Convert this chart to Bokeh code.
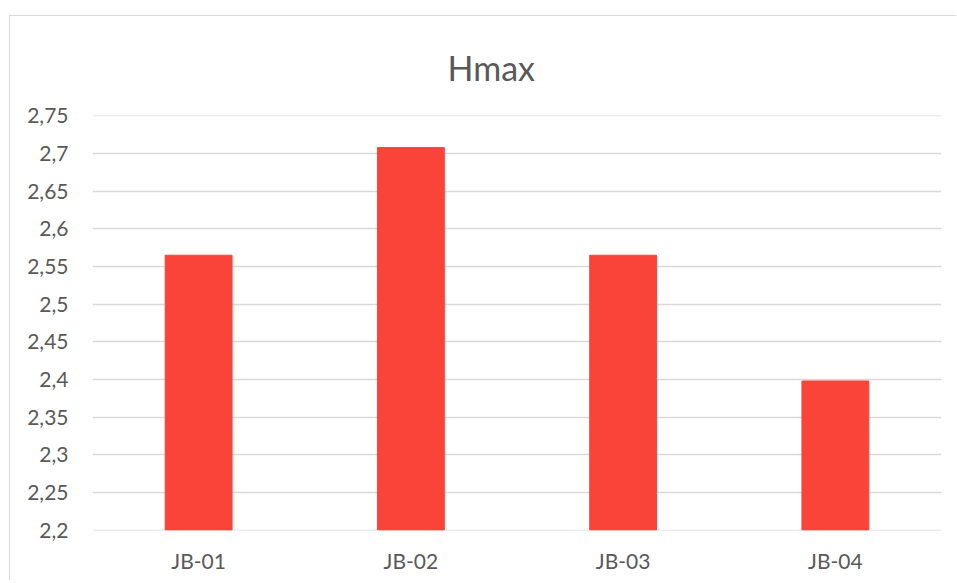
from bokeh.plotting import figure
from bokeh.models import Range1d, FixedTicker, CustomJSTickFormatter, FactorRange
from bokeh.embed import file_html
from bokeh.resources import INLINE

categories = ["JB-01", "JB-02", "JB-03", "JB-04"]
hmax_values = [2.565, 2.708, 2.565, 2.398]
y_ticks = [2.2, 2.25, 2.3, 2.35, 2.4, 2.45, 2.5, 2.55, 2.6, 2.65, 2.7, 2.75]
y_start, y_end = 2.2, 2.75
title_text = "Hmax"

FONT = "Lato"
TEXT_COLOR = "#595959"
GRID_COLOR = "#d9d9d9"
BAR_COLOR = "#FA4339"

p = figure(
    x_range=FactorRange(*categories, range_padding=0),
    y_range=Range1d(y_start - 0.0006, y_end + 0.0006),
    width=947, height=565,
    output_backend="svg", toolbar_location=None,
    title=title_text,
    min_border_left=82, min_border_right=16, min_border_top=99, min_border_bottom=51,
)
p.styles = {"border-left": "1px solid #d9d9d9", "border-top": "1px solid #d9d9d9",
            "margin-top": "15px", "margin-left": "9px"}

p.vbar(x=categories, top=hmax_values, bottom=y_start, width=0.315, color=BAR_COLOR)

p.title.align = "left"
p.title.offset = 355
p.title.text_font = FONT
p.title.text_font_size = "34px"
p.title.text_font_style = "normal"
p.title.text_color = TEXT_COLOR
p.title.standoff = 56

p.outline_line_color = None
p.background_fill_color = "white"
p.border_fill_color = "white"

p.xgrid.grid_line_color = None
p.ygrid.grid_line_color = GRID_COLOR
p.ygrid.grid_line_width = 1.5

p.yaxis.ticker = FixedTicker(ticks=y_ticks)
p.yaxis.formatter = CustomJSTickFormatter(code="""
let s = tick.toFixed(2);
if (s.endsWith('0')) s = s.slice(0, -1);
return s.replace('.', ',');
""")
for ax in (p.xaxis, p.yaxis):
    ax.axis_line_color = None
    ax.major_tick_line_color = None
    ax.minor_tick_line_color = None
    ax.major_label_text_font = FONT
    ax.major_label_text_font_size = "21px"
    ax.major_label_text_color = TEXT_COLOR
p.yaxis.major_label_standoff = 18
p.xaxis.major_label_standoff = 11

open("out.html", "w").write(file_html(p, INLINE))
